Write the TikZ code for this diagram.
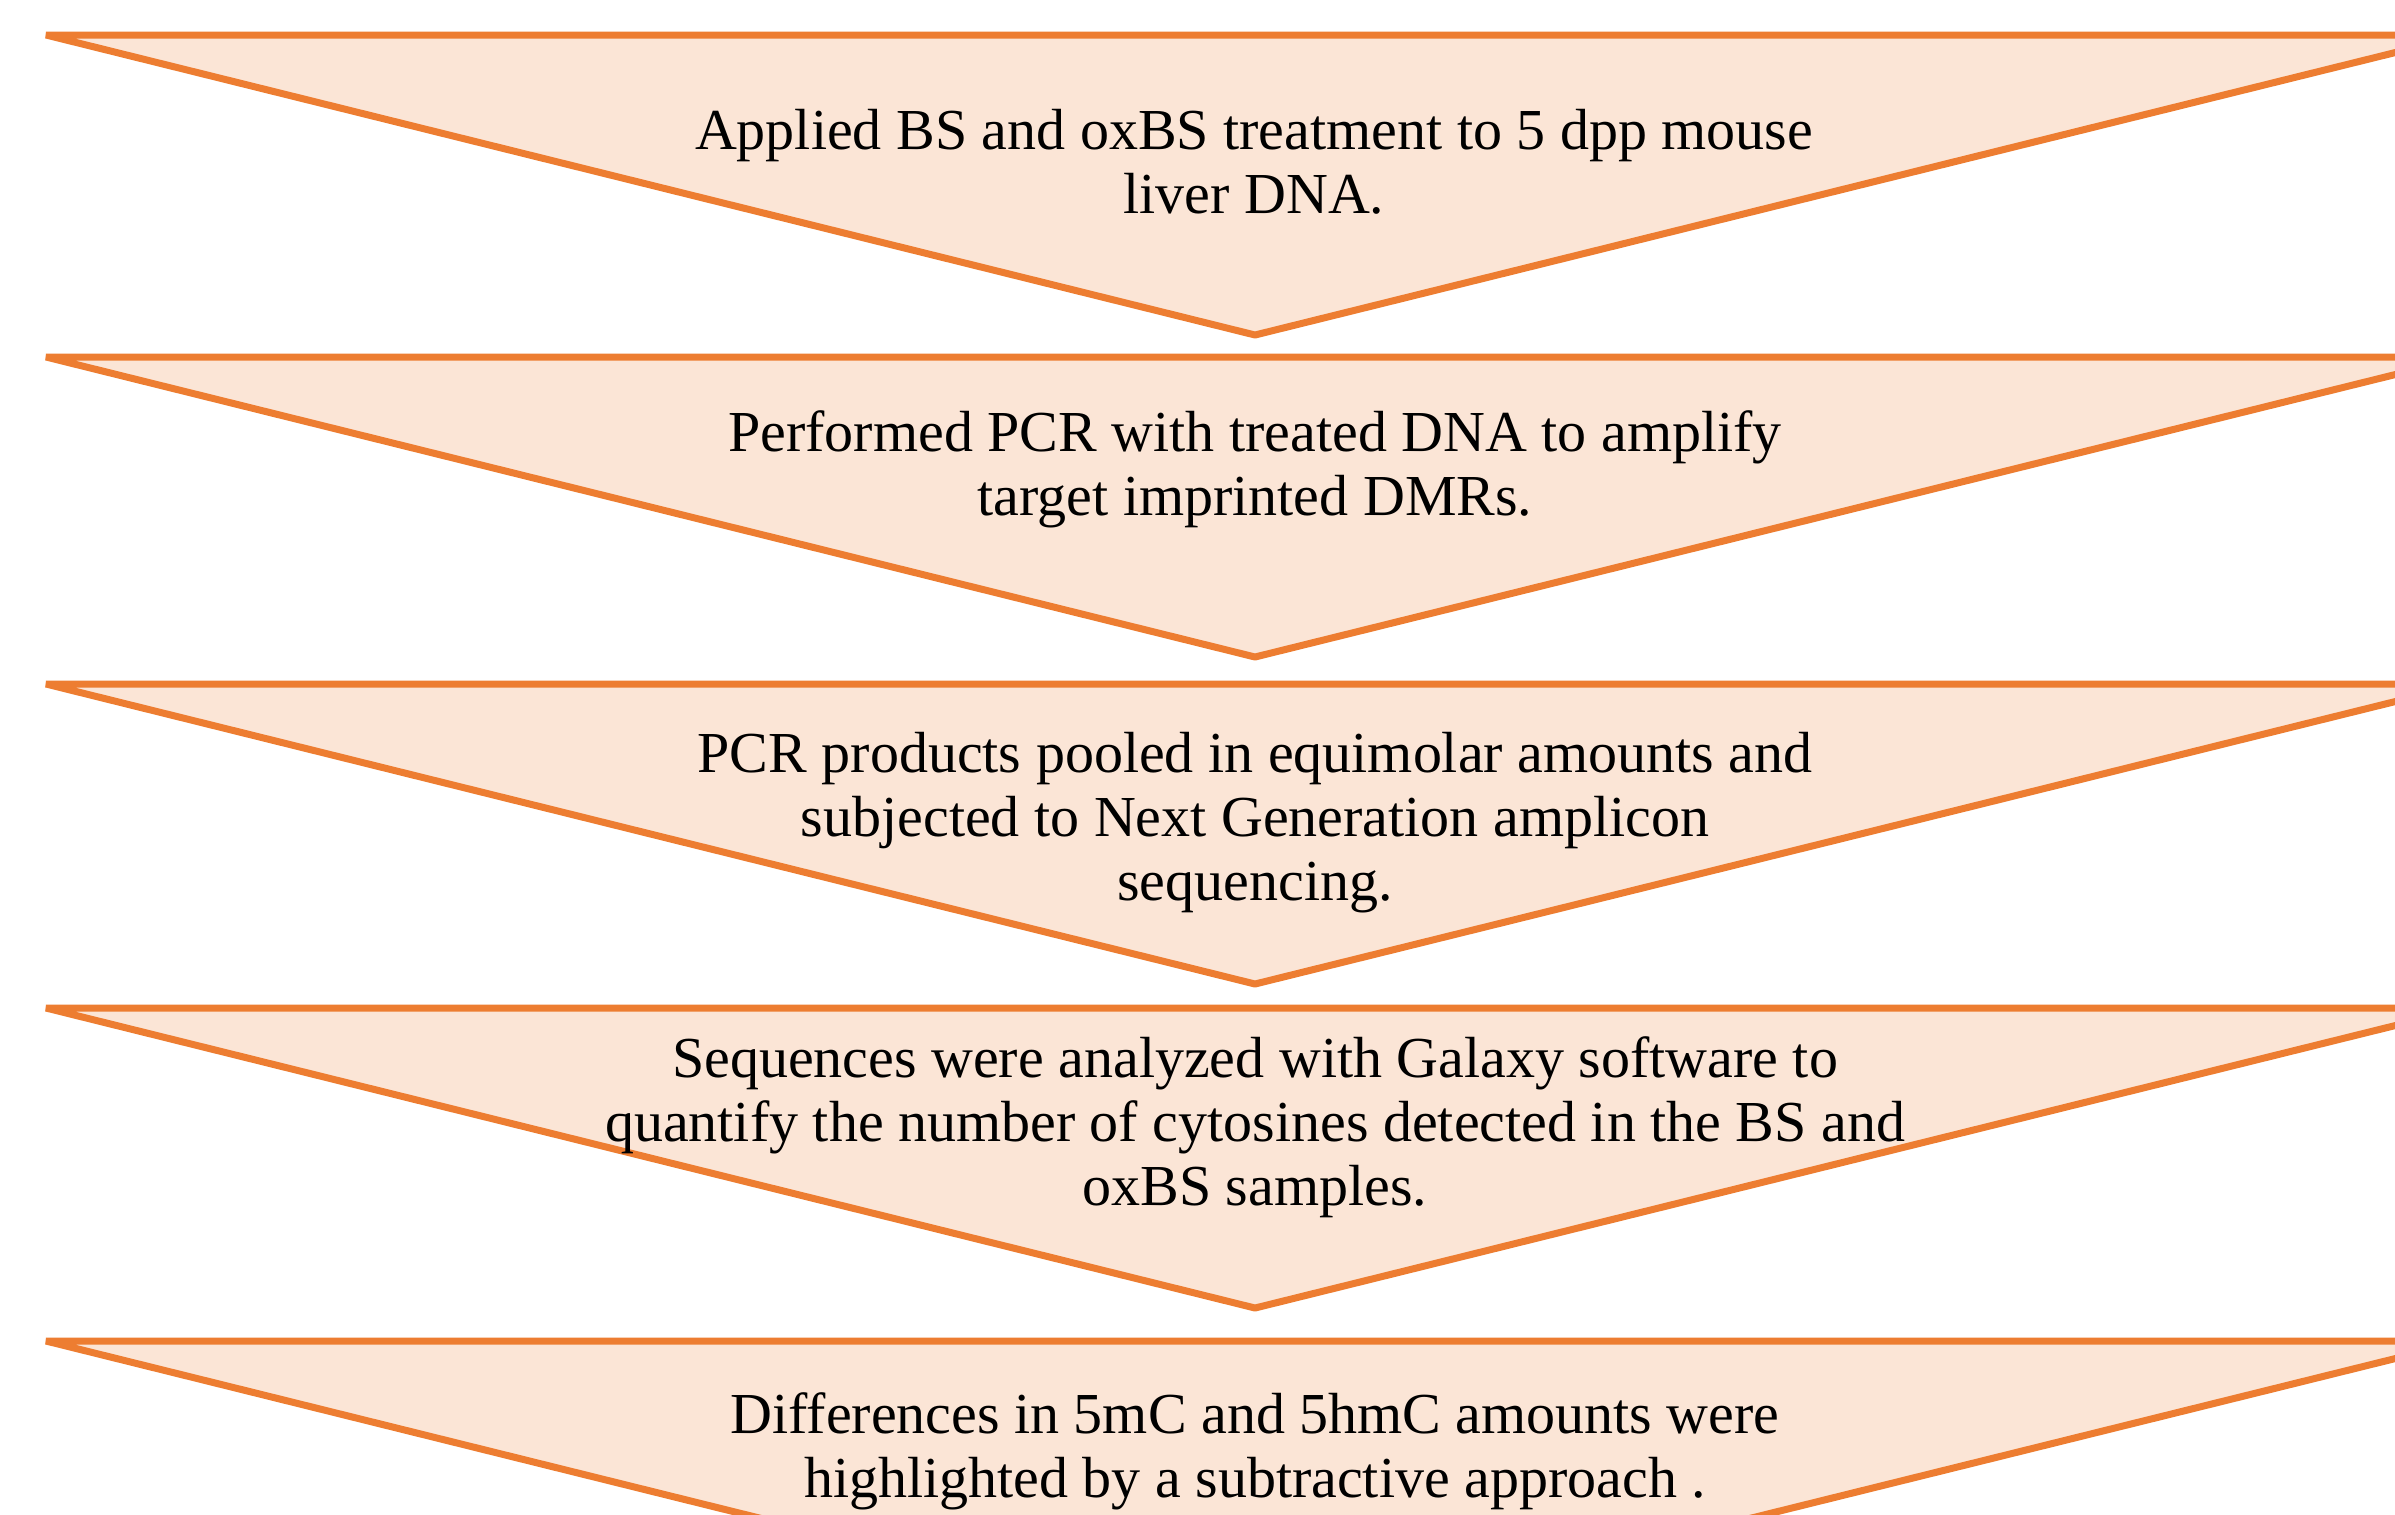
\documentclass[tikz,border=0pt]{standalone}
\usepackage{fontspec}
\setmainfont{Liberation Serif}
\definecolor{chevline}{HTML}{ED7D31}
\definecolor{chevfill}{HTML}{FBE5D6}
\begin{document}
\begin{tikzpicture}[x=0.3pt,y=-0.3pt,
  chev/.style={draw=chevline,fill=chevfill,line width=2.1pt,line join=bevel},
  steptext/.style={align=center,inner sep=0pt,font=\fontsize{17.4}{19.2}\selectfont}]
\useasboundingbox (0,0) rectangle (2395,1514);
\clip (0,0) rectangle (2395,1514);
\fill[white] (0,0) rectangle (2395,1514);
% chevrons: top y, height 300, left 46, apex 1255, right 2466
\draw[chev] (46,35) -- (2466,35) -- (1255,335) -- cycle;
\draw[chev] (46,357) -- (2466,357) -- (1255,657) -- cycle;
\draw[chev] (46,684) -- (2466,684) -- (1255,984) -- cycle;
\draw[chev] (46,1008) -- (2466,1008) -- (1255,1308) -- cycle;
\draw[chev] (46,1341) -- (2466,1341) -- (1255,1641) -- cycle;
\node[steptext] (t1) at (1254,162) {Applied BS and oxBS treatment to 5 dpp mouse\\liver DNA.};
\node[steptext] (t2) at (1255,469) {Performed PCR with treated DNA to amplify\\target imprinted DMRs.};
\node[steptext] (t3) at (1255,823) {PCR products pooled in equimolar amounts and\\subjected to Next Generation amplicon\\sequencing.};
\node[steptext] (t4) at (1255,1127) {Sequences were analyzed with Galaxy software to\\quantify the number of cytosines detected in the BS and\\oxBS samples.};
\node[steptext] (t5) at (1255,1451) {Differences in 5mC and 5hmC amounts were\\highlighted by a subtractive approach .};
\end{tikzpicture}
\end{document}
